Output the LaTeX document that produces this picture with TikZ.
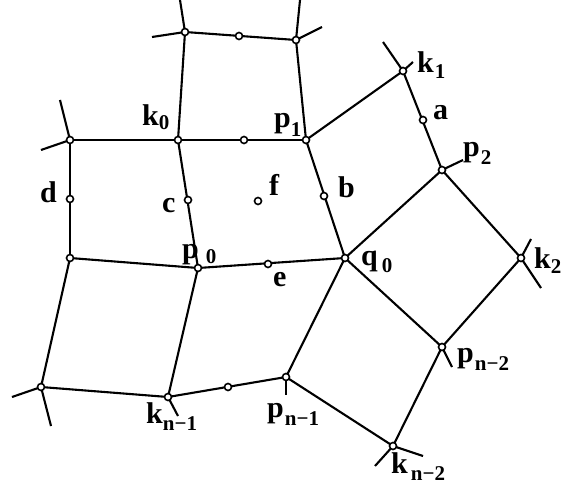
\documentclass[tikz,border=0pt]{standalone}
\usepackage{fontspec}
\setmainfont{Liberation Serif}
\newcommand\lb[4]{#1\hspace{#3}\raisebox{-#4}{\fontsize{21}{21}\selectfont #2}}
\begin{document}
\begin{tikzpicture}[x=1pt,y=-1pt,
  vtx/.style={circle,draw,fill=white,inner sep=0pt,minimum size=7pt,line width=1.6pt},
  edge/.style={line width=2.1pt},
  lab/.style={anchor=base west,inner sep=0pt,font=\fontsize{30}{30}\selectfont\bfseries}]
\useasboundingbox (0,0) rectangle (569,489);
% vertices
\coordinate (T1) at (185,32);
\coordinate (T2) at (296,40);
\coordinate (L1) at (70,140);
\coordinate (k0) at (178,140);
\coordinate (p1) at (306,140);
\coordinate (k1) at (403,71);
\coordinate (p2) at (442,170);
\coordinate (L2) at (70,258);
\coordinate (p0) at (198,268);
\coordinate (q0) at (345,258);
\coordinate (k2) at (521,258);
\coordinate (pn2) at (442,347);
\coordinate (pn1) at (286,377);
\coordinate (kn1) at (168,397);
\coordinate (L3) at (41,387);
\coordinate (kn2) at (393,446);
% stub ends
\coordinate (sT1a) at (180,0);
\coordinate (sT1b) at (152,37);
\coordinate (sT2a) at (300,0);
\coordinate (sT2b) at (322,27);
\coordinate (sL1a) at (60,100);
\coordinate (sL1b) at (41,150);
\coordinate (sk1a) at (383,42);
\coordinate (sk1b) at (413,62);
\coordinate (sp2) at (463,160);
\coordinate (sk2a) at (531,239);
\coordinate (sk2b) at (541,288);
\coordinate (spn2) at (452,367);
\coordinate (skn2a) at (375,466);
\coordinate (skn2b) at (423,456);
\coordinate (spn1) at (286,395);
\coordinate (skn1) at (178,416);
\coordinate (sL3a) at (12,397);
\coordinate (sL3b) at (51,426);
% edges
\draw[edge] (T1) -- (T2);
\draw[edge] (T1) -- (k0);
\draw[edge] (T2) -- (p1);
\draw[edge] (L1) -- (p1);
\draw[edge] (L1) -- (L2);
\draw[edge] (k0) -- (p0);
\draw[edge] (L2) -- (p0) -- (q0);
\draw[edge] (p1) -- (k1);
\draw[edge] (k1) -- (p2);
\draw[edge] (p1) -- (q0);
\draw[edge] (q0) -- (p2);
\draw[edge] (p2) -- (k2);
\draw[edge] (q0) -- (pn2);
\draw[edge] (k2) -- (pn2);
\draw[edge] (L2) -- (L3);
\draw[edge] (p0) -- (kn1);
\draw[edge] (L3) -- (kn1);
\draw[edge] (kn1) -- (pn1);
\draw[edge] (pn1) -- (q0);
\draw[edge] (pn1) -- (kn2);
\draw[edge] (kn2) -- (pn2);
% stubs
\draw[edge] (T1) -- (sT1a) (T1) -- (sT1b);
\draw[edge] (T2) -- (sT2a) (T2) -- (sT2b);
\draw[edge] (L1) -- (sL1a) (L1) -- (sL1b);
\draw[edge] (k1) -- (sk1a) (k1) -- (sk1b);
\draw[edge] (p2) -- (sp2);
\draw[edge] (k2) -- (sk2a) (k2) -- (sk2b);
\draw[edge] (pn2) -- (spn2);
\draw[edge] (kn2) -- (skn2a) (kn2) -- (skn2b);
\draw[edge] (pn1) -- (spn1);
\draw[edge] (kn1) -- (skn1);
\draw[edge] (L3) -- (sL3a) (L3) -- (sL3b);
% circles
\foreach \n in {T1,T2,L1,k0,p1,k1,p2,L2,p0,q0,k2,pn2,pn1,kn1,L3,kn2}
  \node[vtx] (c\n) at (\n) {};
\node[vtx] (Tm) at (239,36) {};
\node[vtx] (m1) at (244,140) {};
\node[vtx] (a) at (423,120) {};
\node[vtx] (d) at (70,199) {};
\node[vtx] (c) at (188,200) {};
\node[vtx] (f) at (258,201) {};
\node[vtx] (b) at (324,196) {};
\node[vtx] (e) at (268,264) {};
\node[vtx] (mm) at (228,387) {};
% labels
\node[lab] (lk0) at (142,126) {\lb{k}{0}{0pt}{4pt}};
\node[lab] (lp1) at (274,128) {\lb{p}{1}{0pt}{9pt}};
\node[lab] (lk1) at (417,73) {\lb{k}{1}{1pt}{6pt}};
\node[lab] (la) at (433,120) {a};
\node[lab] (lp2) at (463,157) {\lb{p}{2}{1pt}{8pt}};
\node[lab] (lb) at (338,197) {b};
\node[lab] (ld) at (40,202) {d};
\node[lab] (lc) at (162,212) {c};
\node[lab] (lf) at (269,195) {f};
\node[lab] (lp0) at (182,258) {\lb{p}{0}{7pt}{5pt}};
\node[lab] (le) at (273,286) {e};
\node[lab] (lq0) at (361,265) {\lb{q}{0}{4pt}{7pt}};
\node[lab] (lk2) at (534,268) {\lb{k}{2}{0pt}{5pt}};
\node[lab] (lpn2) at (457,362) {\lb{p}{n−2}{1pt}{8pt}};
\node[lab] (lkn2) at (391,473) {\lb{k}{n−2}{3pt}{7pt}};
\node[lab] (lpn1) at (267,417) {\lb{p}{n−1}{1pt}{8pt}};
\node[lab] (lkn1) at (146,423) {\lb{k}{n−1}{0pt}{7pt}};
\end{tikzpicture}
\end{document}
